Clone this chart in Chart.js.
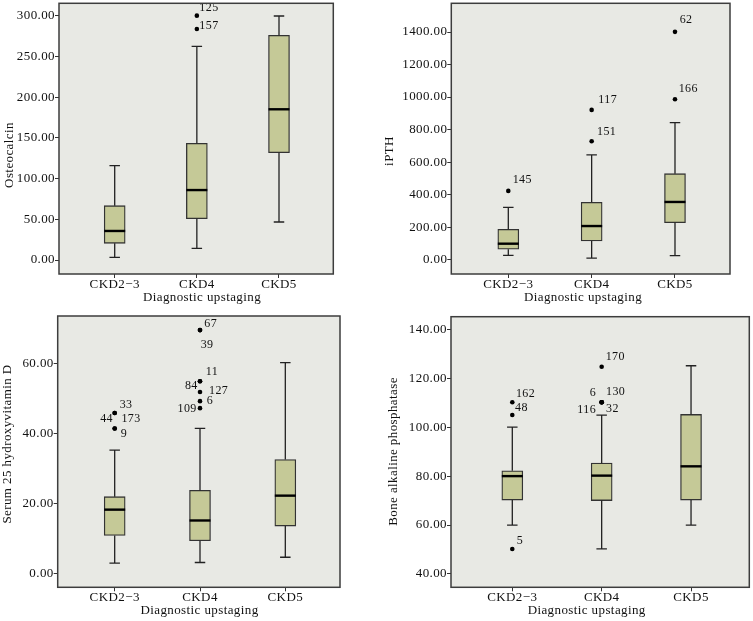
<!DOCTYPE html>
<html>
<head>
<meta charset="utf-8">
<title>CKD box plots</title>
<script src="https://cdn.jsdelivr.net/npm/chart.js@4.4.0/dist/chart.umd.min.js"></script>
<style>
  html, body { margin: 0; padding: 0; background: #fff; }
  #wrap { position: relative; width: 753px; height: 621px; overflow: hidden; }
  #wrap canvas { position: absolute; }
</style>
</head>
<body>
<div id="wrap">
  <canvas id="osteoChart"></canvas>
  <canvas id="pthChart"></canvas>
  <canvas id="vitdChart"></canvas>
  <canvas id="balpChart"></canvas>
</div>
<script>
const categories = ['CKD2−3', 'CKD4', 'CKD5'];
const xTitle = 'Diagnostic upstaging';

// per group: [low whisker, Q1, median, Q3, high whisker]
const osteoStats = [[3.3, 20.5, 35.7, 66.8, 116], [14.3, 50.8, 86, 143.4, 262.7], [46.7, 132, 185.3, 276.3, 300]];
// outliers: [group, value, case id]
const osteoOutliers = [[1, 300.4, '125'], [1, 284, '157']];
const osteoTicks = [0, 50, 100, 150, 200, 250, 300];

const pthStats = [[27, 64, 98.5, 187, 322], [10, 115, 207, 353, 644], [25, 228, 355, 529, 843]];
const pthOutliers = [[0, 423, '145'], [1, 921, '117'], [1, 728, '151'], [2, 1401, '62'], [2, 987, '166']];
const pthTicks = [0, 200, 400, 600, 800, 1000, 1200, 1400];

const vitdStats = [[3.0, 10.9, 18.3, 22, 35.3], [3.2, 9.4, 15.2, 23.8, 41.5], [4.7, 13.6, 22.3, 32.6, 60.3]];
const vitdOutliers = [[0, 45.9, '33'], [0, 45.9, '44'], [0, 41.5, '173'], [0, 41.5, '9'],
  [1, 69.6, '67'], [1, 69.6, '39'], [1, 55, '11'], [1, 55, '84'], [1, 51.9, '127'], [1, 49.3, '6'], [1, 47.3, '109']];
const vitdTicks = [0, 20, 40, 60];

const balpStats = [[60, 70.2, 80, 82.2, 100], [50.3, 70, 80.2, 85.3, 104.9], [60, 70.2, 84, 105.2, 125.1]];
const balpOutliers = [[0, 110.2, '162'], [0, 105, '48'], [0, 50.2, '5'], [1, 124.7, '170'],
  [1, 110.2, '6'], [1, 110.2, '130'], [1, 110.2, '116'], [1, 110.2, '32']];
const balpTicks = [40, 60, 80, 100, 120, 140];

const serif = '"Liberation Serif", "Times New Roman", serif';
const ink = '#111';

// draws plot background, whiskers, medians, case labels, frame and axis titles
const boxPlot = {
    id: 'boxPlot',
    beforeDraw(chart) {
        const { ctx, chartArea: a } = chart;
        ctx.letterSpacing = '0.4px';
        ctx.save();
        ctx.fillStyle = '#e8e9e4';
        ctx.fillRect(a.left, a.top, a.width, a.height);
        ctx.restore();
    },
    afterDatasetsDraw(chart, args, opts) {
        const { ctx, scales: { x, y } } = chart;
        const half = opts.boxWidth / 2, cap = opts.boxWidth / 4;
        ctx.save();
        ctx.lineCap = 'butt';
        opts.stats.forEach((s, i) => {
            const px = x.getPixelForValue(i);
            ctx.strokeStyle = '#222';
            ctx.lineWidth = 1.3;
            ctx.beginPath();
            ctx.moveTo(px, y.getPixelForValue(s[4])); ctx.lineTo(px, y.getPixelForValue(s[3]));
            ctx.moveTo(px, y.getPixelForValue(s[1])); ctx.lineTo(px, y.getPixelForValue(s[0]));
            ctx.moveTo(px - cap, y.getPixelForValue(s[4])); ctx.lineTo(px + cap, y.getPixelForValue(s[4]));
            ctx.moveTo(px - cap, y.getPixelForValue(s[0])); ctx.lineTo(px + cap, y.getPixelForValue(s[0]));
            ctx.stroke();
            ctx.strokeStyle = '#000';
            ctx.lineWidth = 2.4;
            ctx.beginPath();
            ctx.moveTo(px - half, y.getPixelForValue(s[2])); ctx.lineTo(px + half, y.getPixelForValue(s[2]));
            ctx.stroke();
        });

        ctx.fillStyle = ink;
        ctx.font = '12px ' + serif;
        ctx.textBaseline = 'middle';
        opts.outliers.forEach((o, k) => {
            const [dx, dy, align] = opts.labelOffsets[k];
            ctx.textAlign = align || 'left';
            ctx.fillText(o[2], x.getPixelForValue(o[0]) + dx, y.getPixelForValue(o[1]) + dy);
        });
        ctx.restore();
    },
    afterDraw(chart, args, opts) {
        const { ctx, chartArea: a } = chart;
        ctx.save();
        ctx.strokeStyle = '#3d3d3d';
        ctx.lineWidth = 1.5;
        ctx.strokeRect(a.left, a.top, a.width, a.height);

        ctx.fillStyle = ink;
        ctx.font = '13px ' + serif;
        ctx.textAlign = 'center';
        ctx.textBaseline = 'middle';
        ctx.fillText(opts.xTitle, opts.xTitleAt[0], opts.xTitleAt[1]);
        ctx.translate(opts.yTitleAt[0], opts.yTitleAt[1]);
        ctx.rotate(-Math.PI / 2);
        ctx.fillText(opts.yTitle, 0, 0);
        ctx.restore();
    }
};

const panels = [
    {
        id: 'osteoChart', left: 0, top: 0, width: 376, height: 310,
        area: { left: 59, right: 333.3, top: 3.3, bottom: 274 },
        xRange: [-0.678, 2.661], yRange: [-17.2, 315.6],
        stats: osteoStats, outliers: osteoOutliers, ticks: osteoTicks,
        labelOffsets: [[2.5, -7.4], [2.5, -3.3]],
        yTitle: 'Osteocalcin', yTitlePos: [9.5, 155], xTitlePos: [202, 297.5]
    },
    {
        id: 'pthChart', left: 376, top: 0, width: 377, height: 310,
        area: { left: 451.3, right: 730, top: 3.3, bottom: 274 },
        xRange: [-0.684, 2.66], yRange: [-87.9, 1576.5],
        stats: pthStats, outliers: pthOutliers, ticks: pthTicks,
        labelOffsets: [[4.4, -11], [6.7, -10], [5.4, -9.7], [4.7, -11.7], [3.7, -10.7]],
        yTitle: 'iPTH', yTitlePos: [390, 151], xTitlePos: [583, 297.5]
    },
    {
        id: 'vitdChart', left: 0, top: 310, width: 376, height: 311,
        area: { left: 57.7, right: 340, top: 316, bottom: 587.3 },
        xRange: [-0.668, 2.641], yRange: [-3.89, 73.63],
        stats: vitdStats, outliers: vitdOutliers, ticks: vitdTicks,
        labelOffsets: [[5, -8.3], [-1.7, 6, 'right'], [6.7, -9.8], [6, 5.4],
            [4.3, -6.2], [0.7, 14.7], [5.7, -9.5], [-2.3, 4.5, 'right'], [9, -1.7], [6.7, -0.2], [-3.3, 1, 'right']],
        yTitle: 'Serum 25 hydroxyvitamin D', yTitlePos: [8, 444], xTitlePos: [199.5, 610.5]
    },
    {
        id: 'balpChart', left: 376, top: 310, width: 377, height: 311,
        area: { left: 451, right: 749.3, top: 316.7, bottom: 587.3 },
        xRange: [-0.686, 2.652], yRange: [34.56, 145.15],
        stats: balpStats, outliers: balpOutliers, ticks: balpTicks,
        labelOffsets: [[3.6, -8.6], [2.7, -7.5], [4.4, -7.8], [4, -10],
            [-5.6, -9.5, 'right'], [4.4, -10.6], [-5.6, 7.9, 'right'], [4.4, 6.2]],
        yTitle: 'Bone alkaline phosphatase', yTitlePos: [394, 451.5], xTitlePos: [586.7, 610.8]
    }
];

const axisLook = {
    grid: { drawOnChartArea: false, offset: false, tickLength: 4, color: '#333', lineWidth: 1 },
    border: { display: false }
};

const makePanel = (p) => {
    const canvas = document.getElementById(p.id);
    canvas.width = p.width;
    canvas.height = p.height;
    canvas.style.left = p.left + 'px';
    canvas.style.top = p.top + 'px';

    new Chart(canvas, {
        type: 'bar',
        data: {
            datasets: [{
                type: 'bar',
                data: p.stats.map((s, i) => ({ x: i, y: [s[1], s[3]] })),
                backgroundColor: '#c5c997',
                borderColor: '#333',
                borderWidth: 1.3,
                borderSkipped: false,
                barThickness: 21
            }, {
                type: 'scatter',
                data: p.outliers.map(o => ({ x: o[0], y: o[1] })),
                pointRadius: 2.3,
                pointBackgroundColor: '#000',
                pointBorderWidth: 0
            }]
        },
        options: {
            responsive: false,
            animation: false,
            events: [],
            layout: {
                autoPadding: false,
                padding: { left: 0, top: p.area.top - p.top, right: p.left + p.width - p.area.right, bottom: 0 }
            },
            plugins: {
                legend: { display: false },
                tooltip: { enabled: false },
                boxPlot: {
                    stats: p.stats, outliers: p.outliers, labelOffsets: p.labelOffsets, boxWidth: 21,
                    xTitle: xTitle, yTitle: p.yTitle,
                    xTitleAt: [p.xTitlePos[0] - p.left, p.xTitlePos[1] - p.top],
                    yTitleAt: [p.yTitlePos[0] - p.left, p.yTitlePos[1] - p.top]
                }
            },
            scales: {
                x: {
                    ...axisLook,
                    type: 'linear',
                    min: p.xRange[0], max: p.xRange[1],
                    offset: false,
                    ticks: {
                        color: ink, padding: 0, maxRotation: 0, autoSkip: false,
                        font: { family: serif, size: 13, lineHeight: 1 },
                        callback: v => categories[v]
                    },
                    afterBuildTicks: s => { s.ticks = categories.map((c, i) => ({ value: i })); },
                    afterFit: s => {
                        s.height = p.top + p.height - p.area.bottom;
                        s.paddingLeft = s.paddingRight = 0;
                    }
                },
                y: {
                    ...axisLook,
                    type: 'linear',
                    min: p.yRange[0], max: p.yRange[1],
                    beginAtZero: false,
                    ticks: {
                        color: ink, padding: 0,
                        font: { family: serif, size: 13 },
                        callback: v => v.toFixed(2)
                    },
                    afterBuildTicks: s => { s.ticks = p.ticks.map(v => ({ value: v })); },
                    afterFit: s => {
                        s.width = p.area.left - p.left;
                        s.paddingTop = s.paddingBottom = 0;
                    }
                }
            }
        },
        plugins: [boxPlot]
    });
};

panels.forEach(makePanel);
</script>
</body>
</html>
